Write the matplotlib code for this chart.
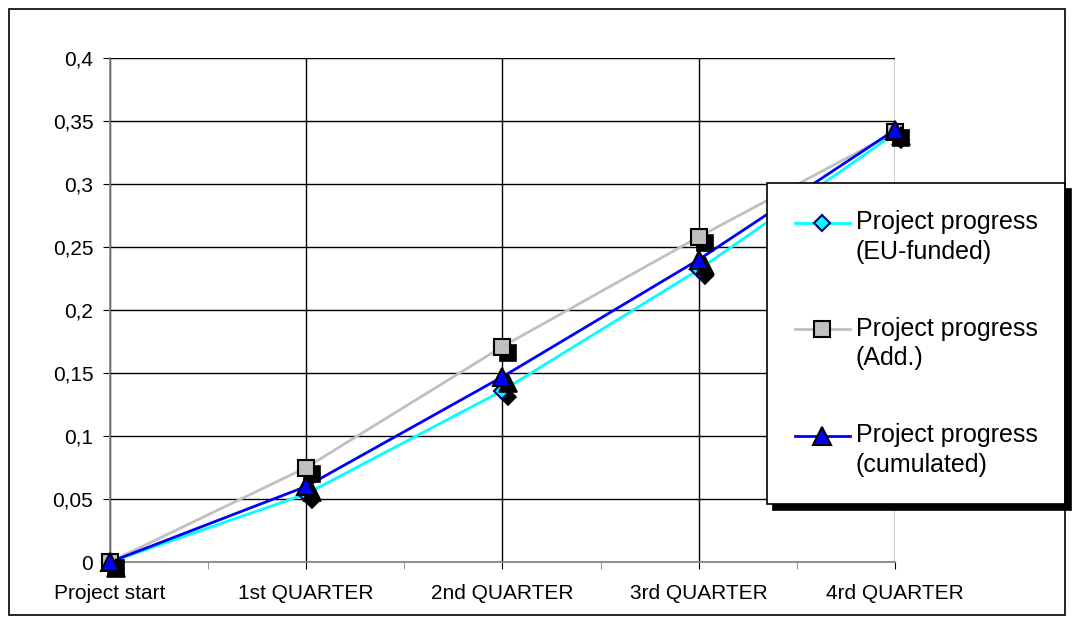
import matplotlib
matplotlib.use('Agg')
import matplotlib.pyplot as plt
import matplotlib.transforms as mtransforms
from matplotlib.lines import Line2D
from matplotlib.patches import Rectangle
from matplotlib.legend_handler import HandlerLine2D

# ---- data ----
categories = ['Project start', '1st QUARTER', '2nd QUARTER', '3rd QUARTER', '4rd QUARTER']
eu_funded = [0.0, 0.054, 0.136, 0.232, 0.340]
additional = [0.0, 0.075, 0.171, 0.258, 0.341]
cumulated = [0.0, 0.060, 0.147, 0.240, 0.343]
series_labels = ['Project progress\n(EU-funded)', 'Project progress\n(Add.)',
                 'Project progress\n(cumulated)']
y_ticks = [0, 0.05, 0.1, 0.15, 0.2, 0.25, 0.3, 0.35, 0.4]
y_tick_labels = ['0', '0,05', '0,1', '0,15', '0,2', '0,25', '0,3', '0,35', '0,4']

plt.rcParams['font.family'] = ['Liberation Sans', 'DejaVu Sans']


class ShiftedHandler(HandlerLine2D):
    """Legend handle aligned with the first line of a two-line label."""
    def __init__(self, shift, **kw):
        super().__init__(**kw)
        self.shift = shift

    def create_artists(self, legend, orig_handle, xdescent, ydescent, width,
                       height, fontsize, trans):
        arts = super().create_artists(legend, orig_handle, xdescent, ydescent,
                                      width, height, fontsize, trans)
        for a in arts:
            a.set_ydata([y + self.shift for y in a.get_ydata()])
        return arts


W, H = 1074, 623
fig = plt.figure(figsize=(W / 100, H / 100), dpi=100)
fig.patch.set_facecolor('white')
fig.add_artist(Rectangle((9 / W, 8 / H), (1065 - 9) / W, (615 - 9) / H,
                         transform=fig.transFigure, fill=False,
                         edgecolor='black', lw=1.2))

ax = fig.add_axes([110 / W, (H - 562) / H, (895 - 110) / W, (562 - 58) / H])
x = list(range(len(categories)))

styles = [
    dict(color='#00FFFF', marker='D', ms=8.6, mfc='#00FFFF', mec='#000080'),
    dict(color='#C0C0C0', marker='s', ms=11.5, mfc='#C0C0C0', mec='black'),
    dict(color='#0000FF', marker='^', ms=12.5, mfc='#0000FF', mec='black'),
]
data = [eu_funded, additional, cumulated]

shadow_tr = ax.transData + mtransforms.ScaledTranslation(0.06, -0.06, fig.dpi_scale_trans)

handles = []
for vals, st in zip(data, styles):
    ax.plot(x, vals, color=st['color'], lw=2, zorder=2, clip_on=False)
for i, (vals, st) in enumerate(zip(data, styles)):
    ax.plot(x, vals, ls='none', marker=st['marker'], ms=st['ms'], mfc='black',
            mec='black', mew=1.2, transform=shadow_tr, zorder=3 + 2 * i, clip_on=False)
    ax.plot(x, vals, ls='none', marker=st['marker'], ms=st['ms'], mfc=st['mfc'],
            mec=st['mec'], mew=1.5, zorder=4 + 2 * i, clip_on=False)
    handles.append(Line2D([], [], color=st['color'], lw=2, marker=st['marker'],
                          ms=st['ms'], mfc=st['mfc'], mec=st['mec'], mew=1.5))

ax.set_xlim(0, 4)
ax.set_ylim(0, 0.4)
ax.set_xticks(x)
ax.set_xticklabels(categories, fontsize=15)
ax.set_xticks([0.5, 1.5, 2.5, 3.5], minor=True)
ax.set_yticks(y_ticks)
ax.set_yticklabels(y_tick_labels, fontsize=15)
ax.grid(True, which='major', color='black', lw=1, zorder=1)
ax.set_axisbelow(True)
for s in ['top', 'right']:
    ax.spines[s].set_visible(False)
for s in ['left', 'bottom']:
    ax.spines[s].set_color('#808080')
    ax.spines[s].set_linewidth(1.2)
    ax.spines[s].set_zorder(1.5)
ax.tick_params(axis='x', which='major', length=5, color='black', pad=11)
ax.tick_params(axis='x', which='minor', length=5, color='#808080')
ax.tick_params(axis='y', which='major', length=5, color='black', pad=7)

hmap = {h: ShiftedHandler(10.8) for h in handles}
leg = ax.legend(handles, series_labels, loc='upper left', handler_map=hmap,
                bbox_to_anchor=(767 / W, 1 - 183 / H), bbox_transform=fig.transFigure,
                borderaxespad=0, fontsize=18, frameon=True, fancybox=False,
                edgecolor='black', framealpha=1, borderpad=1.1, labelspacing=2.1,
                handlelength=2.2, handletextpad=0.25,
                shadow={'ox': 4, 'oy': -4, 'facecolor': 'black', 'edgecolor': 'black', 'alpha': 1})
for t in leg.get_texts():
    t.set_linespacing(1.3)
leg.get_frame().set_linewidth(1.2)
leg.set_zorder(20)

fig.savefig('out.png', dpi=100)
